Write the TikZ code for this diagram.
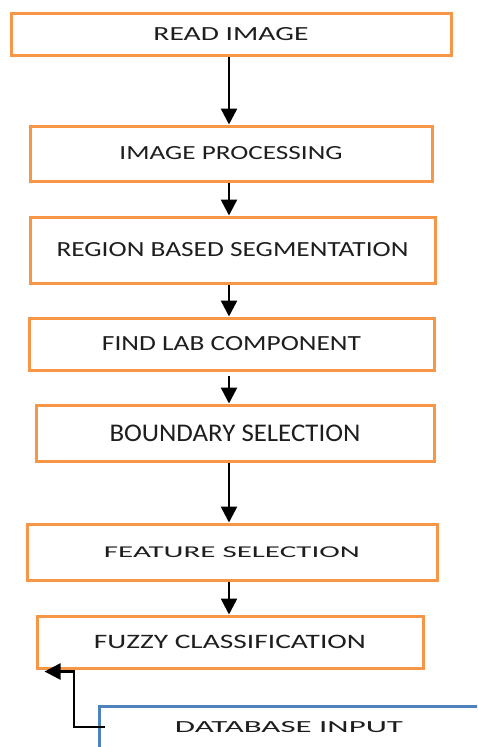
\documentclass[tikz,border=0pt]{standalone}
\usepackage{fontspec}
\setmainfont{Carlito}
\usepackage{graphicx}
\usetikzlibrary{arrows.meta,calc}
\definecolor{boxorange}{HTML}{F79646}
\definecolor{boxblue}{HTML}{4F81BD}
\definecolor{txtgray}{HTML}{1E1E1E}
\newcommand\boxtxt[3]{\resizebox{#1pt}{#2pt}{#3}}
\tikzset{
  stepbox/.style={draw=boxorange, line width=3pt, fill=white, inner sep=0pt, text=txtgray},
  dbbox/.style={draw=boxblue, line width=2.5pt, fill=white, inner sep=0pt},
  arr/.style={draw=black, line width=2.5pt, -{Triangle[length=16pt,width=16pt]}},
}
\begin{document}
\begin{tikzpicture}[x=1pt,y=-1pt]
\useasboundingbox (0,0) rectangle (477,747);
\clip (0,0) rectangle (477,747);
\fill[white] (0,0) rectangle (477,747);

\node[stepbox, minimum width=440pt, minimum height=42pt] (read) at (231,34) {\boxtxt{155}{13}{READ IMAGE}};
\node[stepbox, minimum width=402pt, minimum height=55pt] (proc) at (231,153.5) {\boxtxt{223}{13}{IMAGE PROCESSING}};
\node[stepbox, minimum width=405pt, minimum height=66pt] (seg) at (232.5,250) {\boxtxt{352}{14}{REGION BASED SEGMENTATION}};
\node[stepbox, minimum width=405pt, minimum height=52pt] (lab) at (231.5,344) {\boxtxt{259}{14}{FIND LAB COMPONENT}};
\node[stepbox, minimum width=398pt, minimum height=56pt] (bound) at (235,433) {\boxtxt{251}{16.5}{BOUNDARY SELECTION}};
\node[stepbox, minimum width=410pt, minimum height=56pt] (feat) at (232,552) {\boxtxt{256}{10.7}{FEATURE SELECTION}};
\node[stepbox, minimum width=386pt, minimum height=52pt] (fuzzy) at (230,642) {\boxtxt{272}{13.3}{FUZZY CLASSIFICATION}};

\node[dbbox, anchor=north west, minimum width=400pt, minimum height=60pt] (db) at (98,705) {};
\node[inner sep=0pt, text=txtgray] (dbt) at (289,727) {\boxtxt{228}{11}{DATABASE INPUT}};

\coordinate (ax) at (229,0);
\draw[arr] (read.south -| ax) -- (proc.north -| ax);
\draw[arr] (proc.south -| ax) -- (seg.north -| ax);
\draw[arr] (seg.south -| ax) -- (lab.north -| ax);
\draw[arr] ($(lab.south -| ax)+(0,4)$) -- (bound.north -| ax);
\draw[arr] (bound.south -| ax) -- (feat.north -| ax);
\draw[arr] (feat.south -| ax) -- (fuzzy.north -| ax);

\coordinate (dbin) at (105,727);
\draw[arr] (dbin) -- (74,727) |- ($(fuzzy.south west)+(9,2)$);
\end{tikzpicture}
\end{document}
